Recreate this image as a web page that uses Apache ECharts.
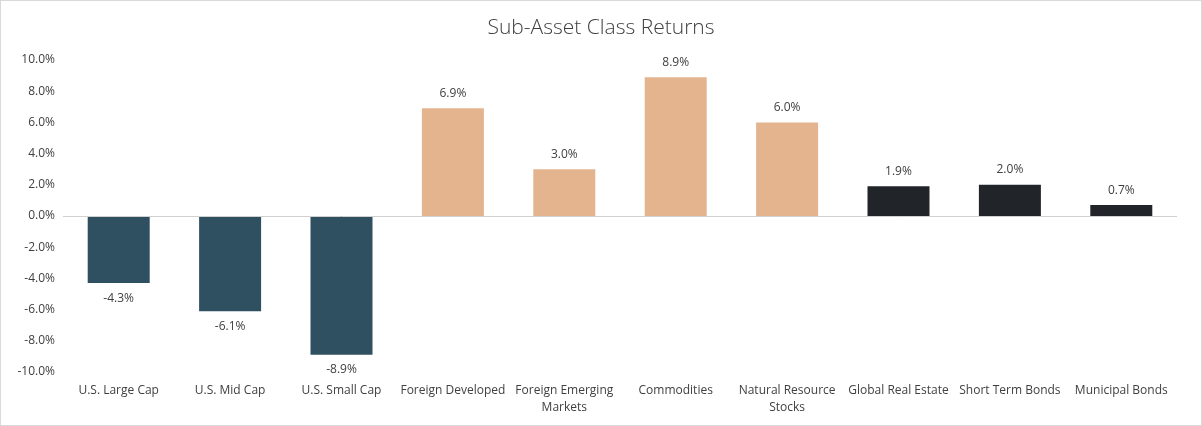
<!DOCTYPE html>
<html>
<head>
<meta charset="utf-8">
<script src="https://cdn.jsdelivr.net/npm/echarts@6/dist/echarts.min.js"></script>
<style>
html,body{margin:0;padding:0;background:#fff;}
#main{width:1200px;height:424px;border:1px solid #d9d9d9;}
</style>
</head>
<body>
<div id="main"></div>
<script>
var categories = ['U.S. Large Cap', 'U.S. Mid Cap', 'U.S. Small Cap', 'Foreign Developed',
  'Foreign Emerging\nMarkets', 'Commodities', 'Natural Resource\nStocks',
  'Global Real Estate', 'Short Term Bonds', 'Municipal Bonds'];
var returns = [-4.3, -6.1, -8.9, 6.9, 3.0, 8.9, 6.0, 1.9, 2.0, 0.7];
var groupColors = ['#2f5061', '#2f5061', '#2f5061', '#e4b48f', '#e4b48f', '#e4b48f', '#e4b48f',
  '#212529', '#212529', '#212529'];

var chart = echarts.init(document.getElementById('main'));
var option = {
  title: {
    text: 'Sub-Asset Class Returns',
    left: 'center', top: 12,
    textStyle: {fontFamily: 'Open Sans', fontSize: 21, fontWeight: 300, color: '#404040'}
  },
  grid: {left: 62, right: 24, top: 59, bottom: 53},
  xAxis: {
    type: 'category',
    data: categories,
    axisLine: {show: false, onZero: false},
    axisTick: {show: false},
    axisLabel: {fontFamily: 'Open Sans', fontSize: 12, color: '#404040', interval: 0, lineHeight: 17, margin: 10}
  },
  yAxis: {
    type: 'value',
    min: -10, max: 10, interval: 2,
    splitLine: {show: false},
    axisLabel: {fontFamily: 'Open Sans', fontSize: 12, color: '#404040',
      formatter: function (v) { return v.toFixed(1) + '%'; }}
  },
  series: [{
    type: 'bar',
    barWidth: 62,
    data: returns.map(function (v, i) {
      return {value: v, itemStyle: {color: groupColors[i]},
        label: {position: v < 0 ? 'bottom' : 'top'}};
    }),
    label: {show: true, fontFamily: 'Open Sans', fontSize: 12, color: '#404040', distance: 9,
      formatter: function (p) { return p.value.toFixed(1) + '%'; }},
    markLine: {
      silent: true, symbol: 'none', label: {show: false},
      lineStyle: {color: '#d0d0d0', type: 'solid', width: 1},
      data: [{yAxis: 0}]
    }
  }]
};
chart.setOption(option);
</script>
</body>
</html>
